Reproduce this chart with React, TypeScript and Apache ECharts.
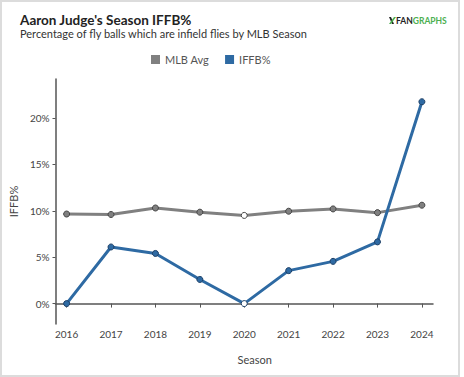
import React, { useEffect, useRef } from "react";
import * as echarts from "echarts";

const seasons = [2016, 2017, 2018, 2019, 2020, 2021, 2022, 2023, 2024];
const mlbAvg = [9.65, 9.6, 10.3, 9.85, 9.5, 9.95, 10.2, 9.8, 10.6];
const iffb = [0.0, 6.1, 5.4, 2.6, 0.0, 3.55, 4.55, 6.65, 21.75];
const yTicks = [0, 5, 10, 15, 20];
const hollowSeason = 2020;

const GRAY = "#808080";
const BLUE = "#2e6aa3";

function buildData(values: number[], color: string, border: string) {
  return seasons.map((s, i) => ({
    value: [s, values[i]],
    itemStyle:
      s === hollowSeason
        ? { color: "#ffffff", borderColor: border, borderWidth: 1 }
        : { color, borderColor: border, borderWidth: 1 },
  }));
}

export default function App() {
  const ref = useRef<HTMLDivElement>(null);
  useEffect(() => {
    document.body.style.margin = "0";
    const chart = echarts.init(ref.current!, undefined, { renderer: "svg" });
    chart.setOption({
      animation: false,
      backgroundColor: "#ffffff",
      textStyle: { fontFamily: "Lato" },
      title: {
        text: "Aaron Judge's Season IFFB%",
        subtext: "Percentage of fly balls which are infield flies by MLB Season",
        left: 15,
        top: 8,
        itemGap: 1,
        textStyle: { fontFamily: "Lato", fontWeight: "bold", fontSize: 13.5, color: "#222" },
        subtextStyle: { fontFamily: "Lato", fontSize: 11, color: "#333" },
      },
      legend: {
        left: 146,
        top: 49,
        itemWidth: 9,
        itemHeight: 9,
        itemGap: 16,
        icon: "rect",
        textStyle: { fontFamily: "Lato", fontSize: 11, color: "#555" },
        data: [
          { name: "MLB Avg", itemStyle: { color: GRAY, borderWidth: 0 } },
          { name: "IFFB%", itemStyle: { color: BLUE, borderWidth: 0 } },
        ],
      },
      grid: { left: 52, right: 31, top: 79, bottom: 53, containLabel: false },
      xAxis: {
        type: "value",
        min: 2015.75,
        max: 2024.25,
        name: "Season",
        nameLocation: "middle",
        nameGap: 30,
        nameTextStyle: { fontFamily: "Lato", fontSize: 11, color: "#444", padding: [0, 0, 0, 21] },
        axisLine: { show: true, lineStyle: { color: "#555", width: 1.5 } },
        axisTick: { show: true, length: 4, customValues: seasons, lineStyle: { color: "#555" } },
        axisLabel: {
          customValues: seasons,
          formatter: (v: number) => String(v),
          fontFamily: "Lato",
          fontSize: 10,
          color: "#444",
          margin: 5,
        },
        splitLine: { show: false },
      },
      yAxis: {
        type: "value",
        min: -2.2,
        max: 24.2,
        name: "IFFB%",
        nameLocation: "middle",
        nameGap: 34,
        nameTextStyle: { fontFamily: "Lato", fontSize: 11, color: "#444" },
        axisLine: { show: true, lineStyle: { color: "#555", width: 1.5 } },
        axisTick: { show: true, length: 3, customValues: yTicks, lineStyle: { color: "#555" } },
        axisLabel: {
          customValues: yTicks,
          formatter: (v: number) => v + "%",
          fontFamily: "Lato",
          fontSize: 10,
          color: "#444",
          margin: 6,
        },
        splitLine: { show: false },
      },
      series: [
        {
          name: "MLB Avg",
          type: "line",
          data: buildData(mlbAvg, GRAY, "#444"),
          symbol: "circle",
          symbolSize: 6,
          lineStyle: { color: GRAY, width: 3 },
          color: GRAY,
          z: 2,
        },
        {
          name: "IFFB%",
          type: "line",
          data: buildData(iffb, BLUE, "#1d3f66"),
          symbol: "circle",
          symbolSize: 6,
          lineStyle: { color: BLUE, width: 3 },
          color: BLUE,
          z: 3,
        },
      ],
      graphic: [
        {
          type: "rect",
          shape: { x: 1, y: 1, width: 458, height: 375 },
          style: { fill: "none", stroke: "#dcdcdc", lineWidth: 2 },
          silent: true,
        },
        {
          type: "polygon",
          shape: { points: [[389, 17], [391, 17], [394, 24], [392, 24]] },
          style: { fill: "#222" },
        },
        {
          type: "polygon",
          shape: { points: [[394, 17], [396, 17], [391, 24], [389, 24]] },
          style: { fill: "#4caf50" },
        },
        {
          type: "text",
          x: 396,
          y: 16,
          style: {
            text: "{a|FAN}{b|GRAPHS}",
            rich: {
              a: { fontFamily: "Lato", fontWeight: "bold", fontSize: 8.5, fill: "#222" },
              b: { fontFamily: "Lato", fontWeight: "bold", fontSize: 8.5, fill: "#4caf50" },
            },
          },
        },
      ],
    });
    return () => chart.dispose();
  }, []);
  return <div ref={ref} style={{ position: "absolute", left: 0, top: 0, width: 464, height: 377 }} />;
}
